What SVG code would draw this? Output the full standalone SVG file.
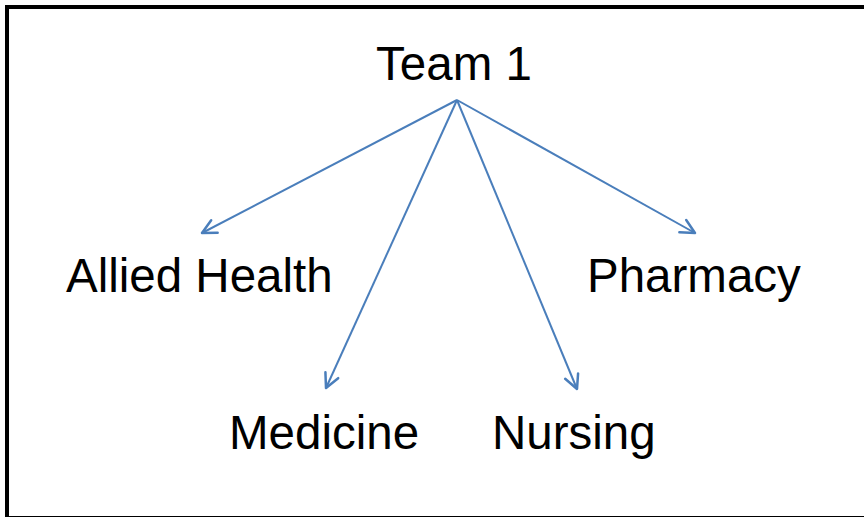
<svg xmlns="http://www.w3.org/2000/svg" width="864" height="517" viewBox="0 0 864 517">
<style>
.lbl{font-family:"Liberation Sans",Arial,sans-serif;font-size:47.5px;fill:#000}
.edge{stroke:#4A7EBB;stroke-width:2;fill:none;marker-end:url(#arr)}
</style>
<defs>
<marker id="arr" markerUnits="userSpaceOnUse" markerWidth="30" markerHeight="30" viewBox="-20 -15 30 30" refX="0" refY="0" orient="auto">
<polyline points="-14,-7 0,0 -14,7" fill="none" stroke="#4A7EBB" stroke-width="2.5" stroke-linecap="round" stroke-linejoin="round"/>
</marker>
</defs>
<rect x="7" y="7" width="880" height="511" fill="#fff" stroke="#000" stroke-width="4"/>
<g id="connectors">
<line class="edge" x1="457" y1="100" x2="202" y2="233"/>
<line class="edge" x1="457" y1="100" x2="695" y2="233"/>
<line class="edge" x1="457" y1="100" x2="326" y2="388"/>
<line class="edge" x1="457" y1="100" x2="577" y2="389"/>
</g>
<g id="team1"><text class="lbl" x="454" y="80" text-anchor="middle">Team 1</text></g>
<g id="allied"><text class="lbl" x="66" y="292">Allied Health</text></g>
<g id="pharmacy"><text class="lbl" x="587" y="292">Pharmacy</text></g>
<g id="medicine"><text class="lbl" x="229" y="449">Medicine</text></g>
<g id="nursing"><text class="lbl" x="492" y="449">Nursing</text></g>
</svg>
